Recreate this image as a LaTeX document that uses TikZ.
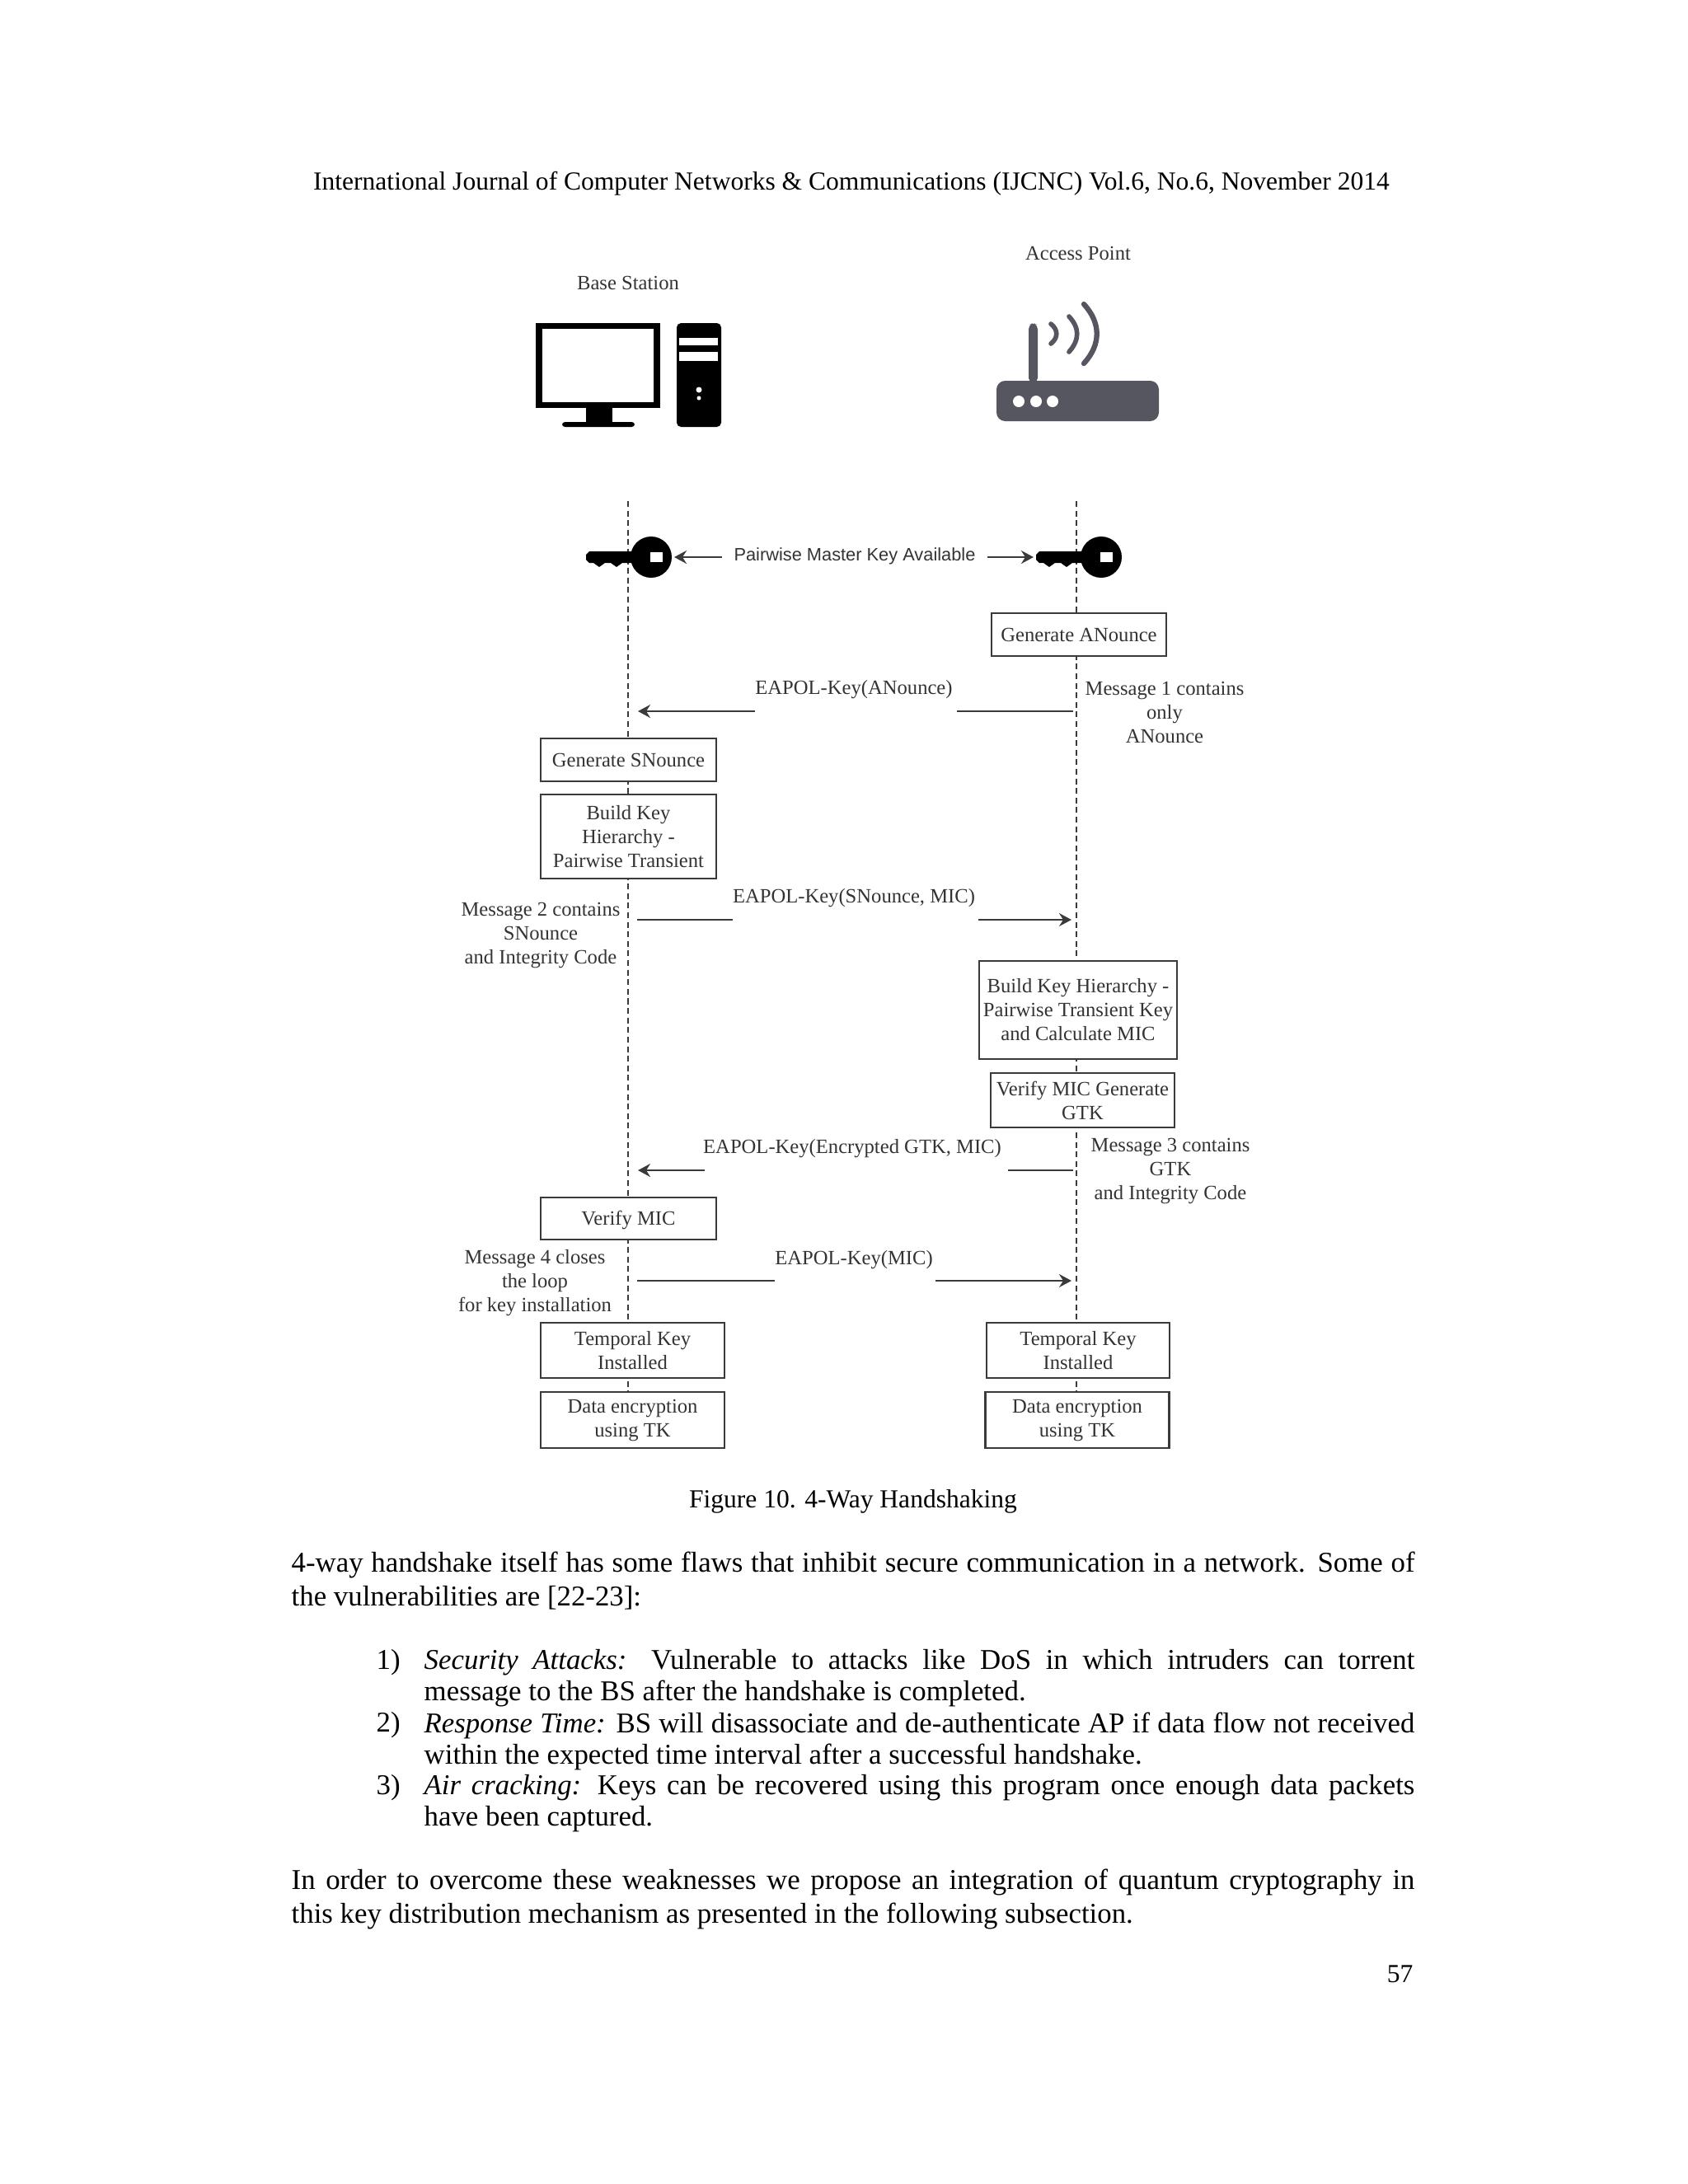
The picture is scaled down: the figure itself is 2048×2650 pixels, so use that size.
\documentclass[tikz,border=0pt]{standalone}
\usepackage{fontspec}
\setmainfont{Liberation Serif}
\newfontfamily\labelsans{Liberation Sans}
\usetikzlibrary{arrows.meta,backgrounds}
\definecolor{linegray}{HTML}{3A3A3A}
\definecolor{routergray}{HTML}{55565F}

\begin{document}
\begin{tikzpicture}[
    x=0.01cm, y=-0.01cm,
    proc/.style={draw=linegray, line width=0.8pt, fill=white, inner sep=0pt, align=center, text=black!80,
      font=\fontsize{7}{8.25}\selectfont},
    lbl/.style={inner sep=0pt, align=center, text=black!80, font=\fontsize{7}{8.25}\selectfont},
    pagetext/.style={inner sep=0pt, font=\fontsize{9.9}{11.66}\selectfont},
    headtext/.style={inner sep=0pt, font=\fontsize{8.97}{11}\selectfont},
    itemtext/.style={inner sep=0pt, anchor=north west, text width=12.01cm, align=justify, font=\fontsize{9.9}{10.8}\selectfont},
    life/.style={dash pattern=on 2pt off 1.3pt, line width=0.5pt, color=linegray},
    wire/.style={line width=0.65pt, color=linegray},
    arr/.style={wire, -{Stealth[length=1.5mm, width=1.6mm, inset=0.5mm]}},
    keyicon/.pic={
      \fill[black] (-79,-3) -- (-75,-7) -- (-20,-7) -- (-20,7) -- (-35,7) -- (-42,12) -- (-49,7) -- (-56,7)
        -- (-63,12) -- (-70,7) -- (-75,7) -- (-79,3) -- cycle;
      \fill[black] (0,0) circle (25);
      \fill[white] (-1,-6) rectangle (14,6);
    },
  ]
  \useasboundingbox (0,0) rectangle (2048,2650);

  % Page text
  \node[headtext] (header) at (1033,223) {International Journal of Computer Networks \& Communications (IJCNC) Vol.6, No.6, November 2014};
  \node[headtext] (caption) at (1035,1822) {Figure 10. 4-Way Handshaking};
  \node[pagetext, anchor=north west, text width=13.62cm, align=justify] (para_a) at (353,1882)
    {4-way handshake itself has some flaws that inhibit secure communication in a network. Some of the vulnerabilities are [22-23]:};
  \node[pagetext, anchor=north west] (num_a) at (456,2001) {1)};
  \node[pagetext, anchor=north west] (num_b) at (456,2077) {2)};
  \node[pagetext, anchor=north west] (num_c) at (456,2153) {3)};
  \node[itemtext] (item_a) at (514,2001) {\textit{Security Attacks:} Vulnerable to attacks like DoS in which intruders can torrent\linebreak message to the BS after the handshake is completed.};
  \node[itemtext] (item_b) at (514,2077) {\textit{Response Time:} BS will disassociate and de-authenticate AP if data flow not received within the expected time interval after a successful handshake.};
  \node[itemtext] (item_c) at (514,2153) {\textit{Air cracking:} Keys can be recovered using this program once enough data packets\linebreak have been captured.};
  \node[pagetext, anchor=north west, text width=13.62cm, align=justify] (para_b) at (353,2267)
    {In order to overcome these weaknesses we propose an integration of quantum cryptography in\linebreak this key distribution mechanism as presented in the following subsection.};
  \node[headtext, anchor=east] (pagenum) at (1715,2395) {57};

  % Base station icon
  \node[lbl] (bs_name) at (762,343) {Base Station};
  \draw[black, line width=2pt] (654,395) rectangle (797,491);
  \fill[black] (711,494) rectangle (743,513);
  \fill[black, rounded corners=1pt] (682,512) rectangle (770,518);
  \fill[black, rounded corners=1.5pt] (821,392) rectangle (875,518);
  \fill[white] (824,410) rectangle (871,419);
  \fill[white] (824,427) rectangle (871,438);
  \fill[white] (848,473) circle (3.5);
  \fill[white] (848,483) circle (2.5);

  % Access point icon
  \node[lbl] (ap_name) at (1308,307) {Access Point};
  \fill[routergray, rounded corners=1.5pt] (1248,464) -- (1248,394) -- (1253.5,392) -- (1259,394) -- (1259,464) -- cycle;
  \fill[routergray, rounded corners=3pt] (1209,462) rectangle (1406,511);
  \foreach \dotx in {1236,1257,1277} \fill[white] (\dotx,487) circle (7);
  \draw[routergray, line width=1.6pt, line cap=round] (1275,393) .. controls (1284,400) and (1284,410) .. (1275,417);
  \draw[routergray, line width=1.6pt, line cap=round] (1297,384) .. controls (1310,398) and (1310,412) .. (1297,427);
  \draw[routergray, line width=1.8pt, line cap=round] (1315,369) .. controls (1336,392) and (1336,418) .. (1315,441);

  % Lifelines ends
  \coordinate (bs_top) at (762,608);
  \coordinate (ap_top) at (1306,608);

  % Keys
  \pic at (790,676) {keyicon};
  \pic at (1336,676) {keyicon};
  \node[inner xsep=0.14cm, inner ysep=0pt, text=black!80, font=\labelsans\fontsize{6.2}{7}\selectfont] (pmk) at (1037,675) {Pairwise Master Key Available};
  \coordinate (key_bs) at (818,676);
  \coordinate (key_ap) at (1254,676);
  \draw[arr] (pmk.west |- key_bs) -- (key_bs);
  \draw[arr] (pmk.east |- key_ap) -- (key_ap);

  % Boxes on the base station side
  \node[proc, minimum width=2.13cm, minimum height=0.52cm] (gen_s) at (762.5,922) {Generate SNounce};
  \node[proc, minimum width=2.13cm, minimum height=1.02cm] (build_s) at (762.5,1015) {Build Key\\Hierarchy -\\Pairwise Transient};
  \node[proc, minimum width=2.13cm, minimum height=0.51cm] (verify_s) at (762.5,1478.5) {\raisebox{0pt}[4.6pt][0pt]{Verify MIC}};
  \node[proc, minimum width=2.23cm, minimum height=0.67cm] (temp_s) at (767.5,1638.5) {Temporal Key\\Installed};
  \node[proc, minimum width=2.23cm, minimum height=0.68cm] (data_s) at (767.5,1723) {Data encryption\\using TK};

  % Boxes on the access point side
  \node[proc, minimum width=2.12cm, minimum height=0.52cm] (gen_a) at (1309,770) {Generate ANounce};
  \node[proc, minimum width=2.40cm, minimum height=1.19cm] (build_a) at (1308,1225.5) {Build Key Hierarchy -\\Pairwise Transient Key\\and Calculate MIC};
  \node[proc, minimum width=2.23cm, minimum height=0.66cm] (verify_a) at (1313.5,1335) {Verify MIC Generate\\GTK};
  \node[proc, minimum width=2.22cm, minimum height=0.67cm] (temp_a) at (1308,1638.5) {Temporal Key\\Installed};
  \node[proc, minimum width=2.23cm, minimum height=0.68cm] (data_a) at (1307,1723) {Data encryption\\using TK};

  % Lifelines
  \begin{scope}[on background layer]
    \draw[life] (bs_top) -- (bs_top |- data_s.north);
    \draw[life] (ap_top) -- (ap_top |- data_a.north);
  \end{scope}

  % Notes beside the lifelines
  \node[lbl] (note_a) at (1413,864) {Message 1 contains\\only\\ANounce};
  \node[lbl] (note_b) at (656,1135) {Message 2 contains\\SNounce\\and Integrity Code};
  \node[lbl] (note_c) at (1420,1421) {Message 3 contains\\GTK\\and Integrity Code};
  \node[lbl] (note_d) at (649,1557) {Message 4 closes\\the loop\\for key installation};

  % Message 1
  \node[lbl] (msg_a) at (1036,837) {EAPOL-Key(ANounce)};
  \coordinate (msg_a_from) at (1302,863);
  \coordinate (msg_a_gapr) at (1161,863);
  \coordinate (msg_a_gapl) at (916,863);
  \coordinate (msg_a_to) at (774,863);
  \draw[wire] (msg_a_from) -- (msg_a_gapr);
  \draw[arr] (msg_a_gapl) -- (msg_a_to);

  % Message 2
  \node[lbl] (msg_b) at (1036,1090) {EAPOL-Key(SNounce, MIC)};
  \coordinate (msg_b_from) at (773,1116);
  \coordinate (msg_b_gapl) at (889,1116);
  \coordinate (msg_b_gapr) at (1187,1116);
  \coordinate (msg_b_to) at (1300,1116);
  \draw[wire] (msg_b_from) -- (msg_b_gapl);
  \draw[arr] (msg_b_gapr) -- (msg_b_to);

  % Message 3
  \node[lbl] (msg_c) at (1034,1394) {EAPOL-Key(Encrypted GTK, MIC)};
  \coordinate (msg_c_from) at (1302,1420);
  \coordinate (msg_c_gapr) at (1223,1420);
  \coordinate (msg_c_gapl) at (855,1420);
  \coordinate (msg_c_to) at (774,1420);
  \draw[wire] (msg_c_from) -- (msg_c_gapr);
  \draw[arr] (msg_c_gapl) -- (msg_c_to);

  % Message 4
  \node[lbl] (msg_d) at (1036,1529) {EAPOL-Key(MIC)};
  \coordinate (msg_d_from) at (773,1554);
  \coordinate (msg_d_gapl) at (940,1554);
  \coordinate (msg_d_gapr) at (1135,1554);
  \coordinate (msg_d_to) at (1300,1554);
  \draw[wire] (msg_d_from) -- (msg_d_gapl);
  \draw[arr] (msg_d_gapr) -- (msg_d_to);
\end{tikzpicture}
\end{document}
